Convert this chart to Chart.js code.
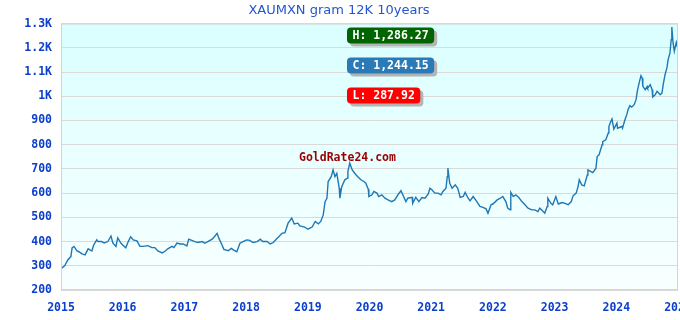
<!DOCTYPE html>
<html>
<head>
<meta charset="utf-8">
<script src="https://cdn.jsdelivr.net/npm/chart.js@4"></script>
<style>
  html, body { margin: 0; padding: 0; background: #fff; }
  #wrap { width: 680px; height: 320px; }
</style>
</head>
<body>
<div id="wrap"><canvas id="goldChart"></canvas></div>
<script>
// price of 12K gold per gram in MXN
const years = [
    2015.00, 2015.06, 2015.11, 2015.16, 2015.18, 2015.21, 2015.26, 2015.29, 2015.34, 2015.39,
    2015.44, 2015.50, 2015.53, 2015.58, 2015.60, 2015.66, 2015.70, 2015.76, 2015.81, 2015.84,
    2015.89, 2015.92, 2015.97, 2016.00, 2016.05, 2016.09, 2016.13, 2016.17, 2016.23, 2016.28,
    2016.33, 2016.41, 2016.47, 2016.52, 2016.57, 2016.64, 2016.69, 2016.73, 2016.80, 2016.83,
    2016.88, 2016.93, 2016.98, 2017.04, 2017.07, 2017.12, 2017.17, 2017.22, 2017.29, 2017.33,
    2017.38, 2017.45, 2017.48, 2017.53, 2017.56, 2017.61, 2017.64, 2017.71, 2017.76, 2017.80,
    2017.85, 2017.90, 2017.95, 2018.01, 2018.06, 2018.11, 2018.18, 2018.23, 2018.27, 2018.34,
    2018.39, 2018.44, 2018.50, 2018.53, 2018.58, 2018.63, 2018.68, 2018.74, 2018.78, 2018.84,
    2018.87, 2018.95, 2019.00, 2019.07, 2019.12, 2019.17, 2019.21, 2019.25, 2019.28, 2019.31,
    2019.33, 2019.38, 2019.41, 2019.44, 2019.47, 2019.51, 2019.52, 2019.55, 2019.60, 2019.64,
    2019.65, 2019.68, 2019.72, 2019.76, 2019.81, 2019.86, 2019.91, 2019.94, 2019.98, 2019.99,
    2020.04, 2020.07, 2020.12, 2020.15, 2020.20, 2020.25, 2020.30, 2020.36, 2020.41, 2020.46,
    2020.51, 2020.54, 2020.59, 2020.62, 2020.69, 2020.70, 2020.75, 2020.80, 2020.85, 2020.90,
    2020.95, 2020.98, 2021.01, 2021.06, 2021.11, 2021.16, 2021.19, 2021.24, 2021.26, 2021.27,
    2021.30, 2021.34, 2021.39, 2021.43, 2021.47, 2021.52, 2021.55, 2021.60, 2021.63, 2021.68,
    2021.74, 2021.79, 2021.84, 2021.89, 2021.92, 2021.97, 2022.00, 2022.07, 2022.12, 2022.16,
    2022.21, 2022.24, 2022.28, 2022.29, 2022.33, 2022.37, 2022.42, 2022.47, 2022.52, 2022.57,
    2022.63, 2022.68, 2022.73, 2022.76, 2022.80, 2022.84, 2022.88, 2022.89, 2022.94, 2022.97,
    2023.02, 2023.06, 2023.12, 2023.17, 2023.22, 2023.27, 2023.30, 2023.35, 2023.38, 2023.40,
    2023.44, 2023.48, 2023.53, 2023.54, 2023.59, 2023.62, 2023.67, 2023.69, 2023.72, 2023.77,
    2023.78, 2023.83, 2023.87, 2023.88, 2023.91, 2023.93, 2023.96, 2024.01, 2024.02, 2024.09,
    2024.10, 2024.14, 2024.17, 2024.19, 2024.22, 2024.25, 2024.29, 2024.32, 2024.34, 2024.37,
    2024.40, 2024.42, 2024.43, 2024.47, 2024.50, 2024.51, 2024.55, 2024.58, 2024.59, 2024.63,
    2024.66, 2024.68, 2024.71, 2024.74, 2024.76, 2024.79, 2024.82, 2024.84, 2024.87, 2024.89,
    2024.90, 2024.92, 2024.94, 2024.97, 2024.98, 2025.00
];
const prices = [
    288, 300, 324, 338, 374, 380, 361, 358, 349, 345,
    370, 361, 386, 407, 400, 400, 394, 400, 423, 394,
    380, 415, 394, 386, 374, 400, 420, 407, 403, 380,
    380, 383, 375, 375, 361, 353, 361, 370, 380, 375,
    394, 390, 390, 382, 410, 405, 400, 396, 400, 393,
    400, 410, 418, 434, 413, 386, 368, 362, 372, 365,
    358, 393, 400, 407, 405, 396, 400, 410, 400, 400,
    390, 396, 413, 420, 434, 437, 476, 497, 473, 476,
    465, 460, 451, 460, 483, 473, 483, 510, 565, 579,
    648, 668, 696, 668, 682, 620, 579, 627, 655, 662,
    689, 724, 696, 682, 668, 655, 648, 641, 616, 586,
    593, 607, 600, 586, 593, 579, 572, 565, 572, 593,
    610, 593, 565, 579, 583, 558, 583, 565, 582, 579,
    596, 620, 614, 600, 600, 593, 607, 620, 668, 703,
    641, 620, 634, 620, 582, 586, 603, 579, 568, 586,
    565, 545, 541, 535, 517, 552, 555, 572, 579, 586,
    565, 538, 531, 603, 586, 593, 582, 565, 552, 538,
    531, 531, 524, 538, 528, 517, 545, 579, 558, 552,
    586, 555, 561, 558, 552, 565, 589, 600, 627, 655,
    634, 630, 675, 696, 689, 685, 703, 751, 758, 800,
    813, 820, 848, 875, 896, 906, 864, 889, 868, 875,
    868, 903, 924, 944, 961, 955, 965, 986, 1020, 1055,
    1085, 1075, 1041, 1027, 1041, 1034, 1048, 1027, 997, 1006,
    1020, 1016, 1006, 1013, 1048, 1089, 1117, 1151, 1179, 1234,
    1286, 1220, 1186, 1220, 1206, 1244
];
const yearTicks = [2015, 2016, 2017, 2018, 2019, 2020, 2021, 2022, 2023, 2024, 2025];
const highPrice = 1286.27;
const closePrice = 1244.15;
const lowPrice = 287.92;

const tickFont = { family: 'DejaVu Sans Mono', size: 11.5, weight: 'bold' };
const tickColor = '#0b3fcc';

function fmt(v) {
    return v.toLocaleString('en-US', { minimumFractionDigits: 2, maximumFractionDigits: 2 });
}

const plotBackground = {
    id: 'plotBackground',
    beforeDraw(chart) {
        const { ctx, chartArea: a } = chart;
        const g = ctx.createLinearGradient(0, a.top, 0, a.bottom);
        g.addColorStop(0, 'rgb(218,255,255)');
        g.addColorStop(1, 'rgb(249,255,255)');
        ctx.save();
        ctx.fillStyle = g;
        ctx.fillRect(a.left, a.top, a.right - a.left, a.bottom - a.top);
        ctx.restore();
    },
    afterDatasetsDraw(chart) {
        const { ctx, chartArea: a } = chart;
        ctx.save();
        ctx.strokeStyle = '#d4d4d4';
        ctx.lineWidth = 1;
        ctx.strokeRect(a.left + 0.5, a.top + 0.5, a.right - a.left - 1, a.bottom - a.top - 1);
        ctx.restore();
    }
};

function roundRect(ctx, x, y, w, h, r) {
    ctx.beginPath();
    ctx.moveTo(x + r, y);
    ctx.arcTo(x + w, y, x + w, y + h, r);
    ctx.arcTo(x + w, y + h, x, y + h, r);
    ctx.arcTo(x, y + h, x, y, r);
    ctx.arcTo(x, y, x + w, y, r);
    ctx.closePath();
}

const badges = {
    id: 'badges',
    afterDraw(chart) {
        const { ctx, chartArea: a } = chart;
        ctx.save();
        // watermark
        ctx.font = 'bold 11.5px "DejaVu Sans Mono"';
        ctx.fillStyle = '#9b0000';
        ctx.textBaseline = 'middle';
        ctx.textAlign = 'left';
        ctx.fillText('GoldRate24.com', a.left + 238, a.top + 134);

        const items = [
            ['H: ' + fmt(highPrice), '#006400', 4],
            ['C: ' + fmt(closePrice), '#2a7ab8', 34],
            ['L: ' + fmt(lowPrice), '#ff0000', 64]
        ];
        items.forEach(([text, color, dy]) => {
            const w = ctx.measureText(text).width + 11;
            const x = a.left + 286, y = a.top + dy, h = 16;
            ctx.fillStyle = '#b4b4b4';
            roundRect(ctx, x + 3, y + 3, w, h, 4);
            ctx.fill();
            ctx.fillStyle = color;
            roundRect(ctx, x, y, w, h, 4);
            ctx.fill();
            ctx.fillStyle = '#ffffff';
            ctx.fillText(text, x + 5.5, y + h / 2 + 0.5);
        });
        ctx.restore();
    }
};

const ctx = document.getElementById('goldChart').getContext('2d');
new Chart(ctx, {
    type: 'line',
    data: {
        datasets: [{
            data: years.map((y, i) => ({ x: y, y: prices[i] })),
            borderColor: '#1f77b4',
            borderWidth: 1.4,
            pointRadius: 0,
            tension: 0,
            fill: false
        }]
    },
    options: {
        responsive: true,
        maintainAspectRatio: false,
        animation: false,
        layout: { padding: { left: 0, right: 2, top: 0, bottom: 0 } },
        plugins: {
            legend: { display: false },
            tooltip: { enabled: false },
            title: {
                display: true,
                text: 'XAUMXN gram 12K 10years',
                color: '#2456d0',
                font: { family: 'DejaVu Sans', size: 13, weight: 'normal' },
                padding: { top: 3, bottom: 5 }
            }
        },
        scales: {
            x: {
                type: 'linear',
                min: 2015,
                max: 2025,
                afterBuildTicks: (s) => { s.ticks = yearTicks.map(v => ({ value: v })); },
                afterFit: (s) => { s.paddingRight = 0; s.paddingLeft = 0; s.height = 30; },
                grid: { display: false, drawTicks: false },
                border: { display: false },
                ticks: {
                    color: tickColor,
                    font: tickFont,
                    padding: 11,
                    maxRotation: 0,
                    autoSkip: false,
                    callback: (v) => String(v)
                }
            },
            y: {
                min: 200,
                max: 1300,
                afterFit: (s) => { s.width = 61; },
                grid: { color: '#dadada', drawTicks: false },
                border: { display: false },
                ticks: {
                    stepSize: 100,
                    color: tickColor,
                    font: tickFont,
                    padding: 9,
                    callback: (v) => v >= 1000 ? (v / 1000) + 'K' : String(v)
                }
            }
        }
    },
    plugins: [plotBackground, badges]
});
</script>
</body>
</html>
